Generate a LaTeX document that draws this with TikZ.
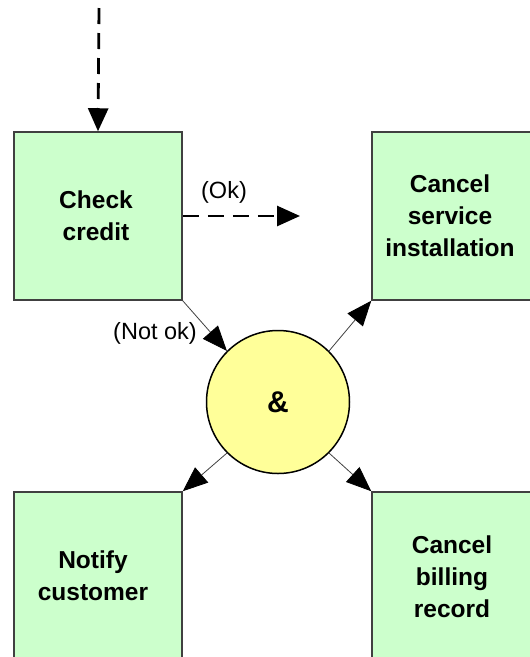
\documentclass[tikz,border=0pt]{standalone}
\usepackage{fontspec}
\setmainfont{Liberation Sans}
\usetikzlibrary{arrows.meta}
\definecolor{taskfill}{HTML}{CCFFCC}
\definecolor{joinfill}{HTML}{FFFF99}
\begin{document}
\begin{tikzpicture}[x=1pt,y=-1pt,
  taskbox/.style={draw=black!75, line width=1.5pt, fill=taskfill,
    minimum width=168pt, minimum height=168pt, inner sep=0pt},
  tasktext/.style={align=center, font=\fontsize{24.5}{32}\selectfont\bfseries},
  joinnode/.style={circle, draw=black, line width=1.5pt, fill=joinfill,
    minimum size=143pt, inner sep=0pt, font=\fontsize{30}{32}\selectfont\bfseries},
  flowlabel/.style={font=\fontsize{23.5}{26}\selectfont, inner sep=0pt},
  thinflow/.style={line width=0.8pt, draw=black!75,
    -{Triangle[length=25pt,width=20pt,color=black]}},
  dashflow/.style={line width=2.8pt, dash pattern=on 16pt off 9pt,
    -{Triangle[length=23pt,width=20pt]}}]
\useasboundingbox (0,0) rectangle (530,657);

% activity boxes (the right and bottom ones run past the page edge)
\node[taskbox] (credit) at (98,216) {};
\node[tasktext] (creditText) at (96,216) {Check\\credit};
\node[taskbox] (svc) at (456,216) {};
\node[tasktext] (svcText) at (450,216) {Cancel\\service\\installation};
\node[taskbox] (notify) at (98,576) {};
\node[tasktext] (notifyText) at (93,576) {Notify\\customer};
\node[taskbox] (bill) at (456,576) {};
\node[tasktext] (billText) at (452,577) {Cancel\\billing\\record};

% AND junction
\node[joinnode] (and) at (278,402) {\&};

% incoming and outgoing flows
\coordinate (src) at (99,8);
\coordinate (okEnd) at (300,216);
\draw[dashflow] (src) -- (credit.north);
\draw[dashflow] (credit.east) -- (okEnd);
\draw[thinflow] (credit.south east) -- (and.north west);
\draw[thinflow] (and.north east) -- (svc.south west);
\draw[thinflow] (and.south west) -- (notify.north east);
\draw[thinflow] (and.south east) -- (bill.north west);

% flow labels
\node[flowlabel] (okLabel) at (224,192) {(Ok)};
\node[flowlabel] (notOkLabel) at (155,333) {(Not ok)};
\end{tikzpicture}
\end{document}
